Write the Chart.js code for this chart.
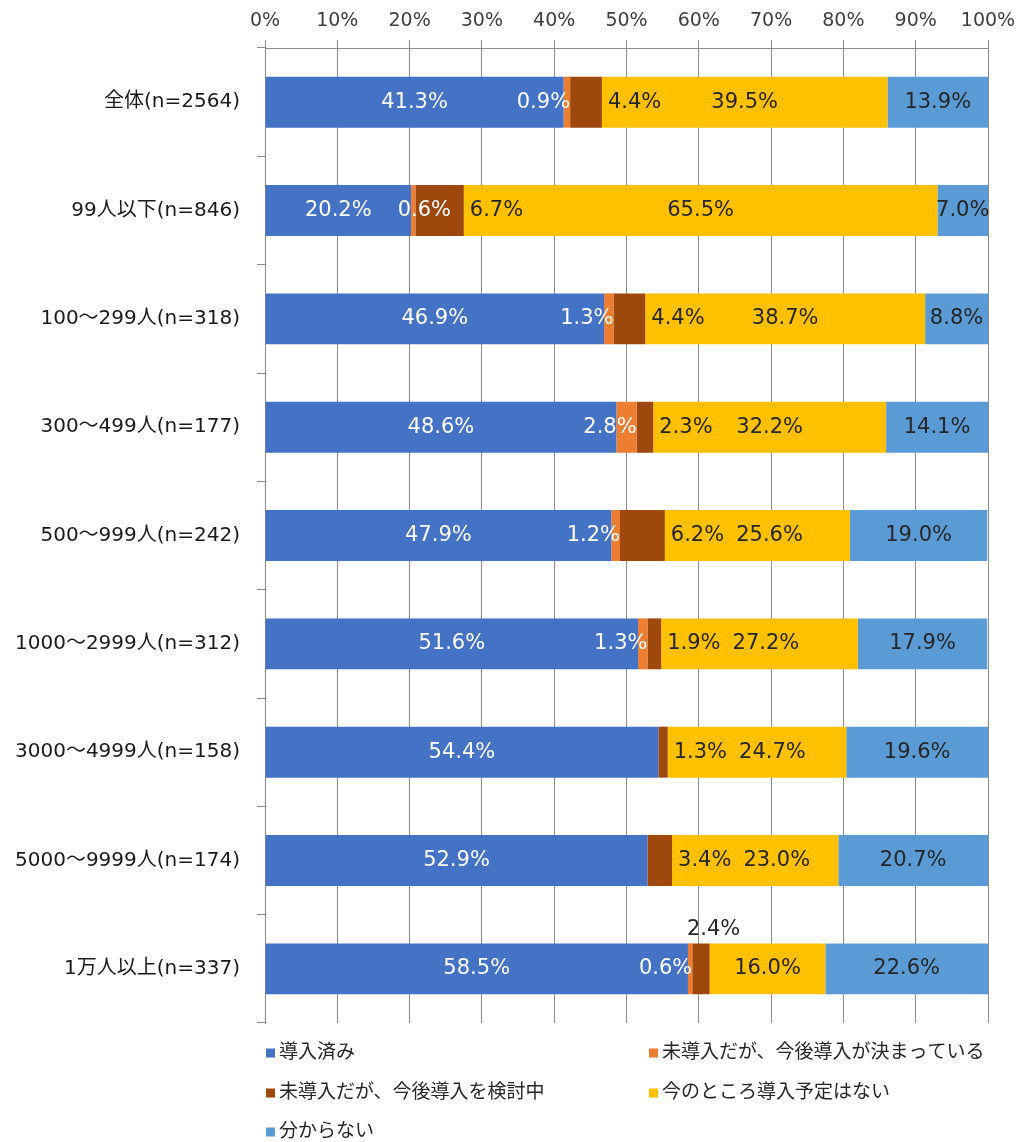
<!DOCTYPE html>
<html>
<head>
<meta charset="utf-8">
<script src="https://cdn.jsdelivr.net/npm/chart.js@4/dist/chart.umd.min.js"></script>
<style>
html,body{margin:0;padding:0;background:#fff;}
#wrap{width:1019px;height:1142px;position:relative;}
</style>
</head>
<body>
<div id="wrap"><canvas id="c"></canvas></div>
<script>
const categories = ["全体(n=2564)","99人以下(n=846)","100～299人(n=318)","300～499人(n=177)","500～999人(n=242)","1000～2999人(n=312)","3000～4999人(n=158)","5000～9999人(n=174)","1万人以上(n=337)"];
const seriesNames = ["導入済み","未導入だが、今後導入が決まっている","未導入だが、今後導入を検討中","今のところ導入予定はない","分からない"];
const introduced = [41.3,20.2,46.9,48.6,47.9,51.6,54.4,52.9,58.5];
const decided = [0.9,0.6,1.3,2.8,1.2,1.3,0,0,0.6];
const considering = [4.4,6.7,4.4,2.3,6.2,1.9,1.3,3.4,2.4];
const noPlan = [39.5,65.5,38.7,32.2,25.6,27.2,24.7,23.0,16.0];
const unknown = [13.9,7.0,8.8,14.1,19.0,17.9,19.6,20.7,22.6];
const xTickValues = [0,10,20,30,40,50,60,70,80,90,100];

const colors = ["#4472C4","#ED7D31","#9E480E","#FFC000","#5B9BD5"];
const FONT = '"DejaVu Sans","Noto Sans CJK JP",sans-serif';
const GRID = '#8c8c8c';
const DARK = '#262626';

const seriesValues = [introduced, decided, considering, noPlan, unknown];

const labelPlugin = {
  id: 'segLabels',
  afterDatasetsDraw(chart) {
    const ctx = chart.ctx;
    const area = chart.chartArea;
    ctx.save();
    ctx.font = '21px ' + FONT;
    ctx.textBaseline = 'middle';
    const n = categories.length;
    for (let i = 0; i < n; i++) {
      let blueRight = -Infinity, brownRight = -Infinity;
      chart.data.datasets.forEach((ds, di) => {
        const v = ds.data[i];
        if (!v) return;
        const el = chart.getDatasetMeta(di).data[i];
        const p = el.getProps(['x','base','y','height'], true);
        const end = Math.min(p.x, area.right);
        const start = p.base;
        const txt = v.toFixed(1) + '%';
        const w = ctx.measureText(txt).width;
        let left, y = p.y, color = DARK;
        if (di === 0) {
          left = (start + end) / 2 - w / 2; color = '#ffffff';
          blueRight = left + w;
        } else if (di === 1) {
          left = end - w; color = '#ffffff';
          if (left < blueRight + 26) left = blueRight + 26;
        } else if (di === 2) {
          if (i === n - 1) { left = end + 4 - w / 2; y = p.y - p.height / 2 - 14; }
          else { left = end + 6; brownRight = left + w; }
        } else if (di === 3) {
          left = (start + end) / 2 - w / 2;
          if (left < brownRight + 12) left = brownRight + 12;
        } else {
          left = (start + end) / 2 - w / 2;
        }
        ctx.fillStyle = color;
        ctx.textAlign = 'left';
        ctx.fillText(txt, left, y);
      });
    }
    ctx.restore();
  }
};

const legendPlugin = {
  id: 'gridLegend',
  afterDraw(chart) {
    const ctx = chart.ctx;
    const area = chart.chartArea;
    const cols = [area.left, 648];
    const rows = [area.bottom + 30, area.bottom + 70, area.bottom + 109];
    ctx.save();
    ctx.font = '19px ' + FONT;
    ctx.textBaseline = 'middle';
    ctx.textAlign = 'left';
    seriesNames.forEach((name, k) => {
      const cx = cols[k % 2], cy = rows[Math.floor(k / 2)];
      ctx.fillStyle = colors[k];
      ctx.fillRect(cx + 1, cy - 4.5, 9, 9);
      ctx.fillStyle = DARK;
      ctx.fillText(name, cx + 14, cy);
    });
    ctx.restore();
  }
};

new Chart(document.getElementById('c'), {
  type: 'bar',
  data: {
    labels: categories,
    datasets: seriesNames.map((n, k) => ({
      label: n,
      data: seriesValues[k],
      backgroundColor: colors[k],
      borderWidth: 0,
      categoryPercentage: 1,
      barPercentage: 0.47
    }))
  },
  options: {
    indexAxis: 'y',
    responsive: true,
    maintainAspectRatio: false,
    animation: false,
    layout: { padding: { top: 0, right: 31, bottom: 119, left: 0 } },
    plugins: { legend: { display: false }, tooltip: { enabled: false } },
    scales: {
      x: {
        position: 'top',
        stacked: true,
        min: 0, max: 100,
        afterBuildTicks(scale) { scale.ticks = xTickValues.map(v => ({ value: v })); },
        afterFit(scale) { scale.height = 48; scale.paddingLeft = 0; scale.paddingRight = 0; },
        grid: { color: GRID, tickColor: GRID, lineWidth: 1, tickLength: 8 },
        border: { display: true, color: GRID },
        ticks: { font: { family: FONT, size: 19 }, color: '#404040', padding: 8, callback: v => v + '%' }
      },
      y: {
        stacked: true,
        afterFit(scale) { scale.width = 265; scale.paddingTop = 0; scale.paddingBottom = 0; },
        grid: {
          offset: true,
          drawOnChartArea: true,
          color: c => (c.index === categories.length ? GRID : 'rgba(0,0,0,0)'),
          tickColor: GRID,
          tickLength: 8
        },
        border: { display: true, color: GRID },
        ticks: { font: { family: FONT, size: 20 }, color: '#1a1a1a', padding: 17 }
      }
    }
  },
  plugins: [labelPlugin, legendPlugin]
});
</script>
</body>
</html>
